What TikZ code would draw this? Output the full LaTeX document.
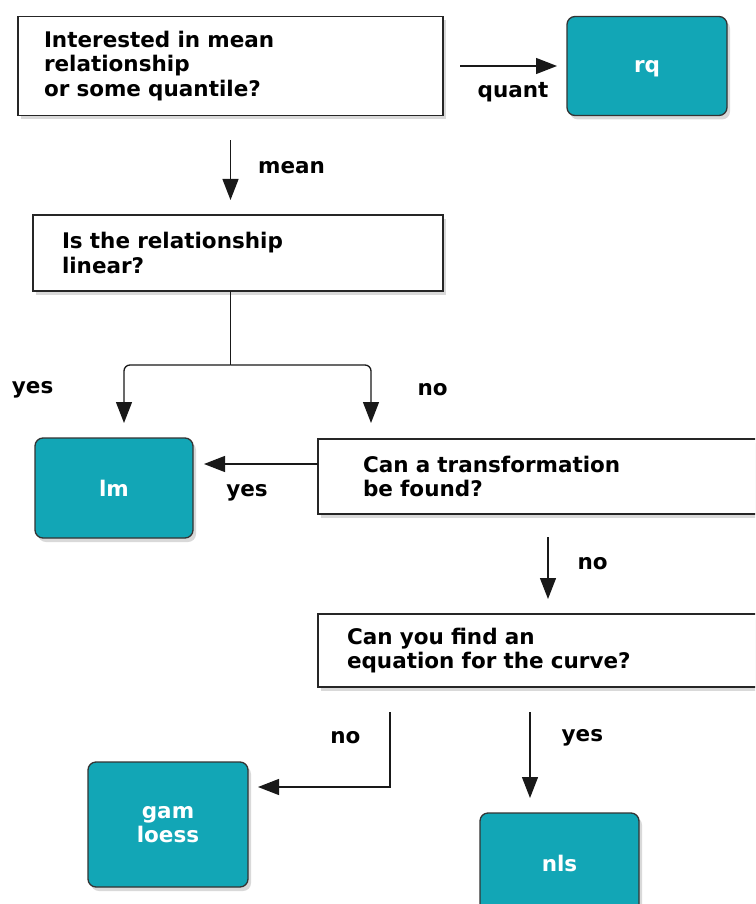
\documentclass[tikz,border=0pt]{standalone}
\usepackage{fontspec}
\setmainfont{DejaVu Sans}
\usetikzlibrary{arrows.meta, positioning, calc, shadows}
\definecolor{answerfill}{RGB}{18,166,182}

\begin{document}
\begin{tikzpicture}[
        x=1pt, y=-1pt,
        >={Triangle[length=21pt, width=16pt]},
        font=\fontsize{21.5}{24.5}\selectfont\bfseries,
        question/.style={draw=black!85, line width=1.6pt, fill=white, align=left, inner ysep=0pt, outer sep=0pt,
            drop shadow={shadow xshift=3pt, shadow yshift=-4pt, opacity=0.3}},
        answer/.style={draw=black!80, line width=1.3pt, fill=answerfill, text=white, rounded corners=8pt, align=center,
            minimum width=160pt, minimum height=100pt, inner sep=0pt, outer sep=0pt, text depth=0pt,
            drop shadow={shadow xshift=3pt, shadow yshift=-4pt, opacity=0.3}},
        line/.style={line width=1.3pt, draw=black!90},
        arrow/.style={line, ->},
        lab/.style={inner sep=0pt}
    ]
        \useasboundingbox (0,0) rectangle (755,904);
        \clip (0,0) rectangle (755,904);

        \node[question, text width=373pt, inner xsep=26pt, minimum height=99pt] (interest) at (230.5,66) {Interested in mean\\relationship\\or some quantile?};
        \node[answer, minimum height=99pt] (rq) at (647,66) {rq};
        \node[question, text width=352pt, inner xsep=29pt, minimum height=76pt] (linear) at (238,253) {Is the relationship\\linear?};
        \node[answer, minimum width=158pt] (lm) at (114,488) {lm};
        \node[question, text width=362pt, inner xsep=45pt, minimum height=75pt] (transform) at (544,476.5) {Can a transformation\\be found?};
        \node[question, text width=394pt, inner xsep=29pt, minimum height=73pt] (curve) at (544,650.5) {Can you find an\\equation for the curve?};
        \node[answer, minimum height=125pt] (gam) at (168,824.5) {gam\\loess};
        \node[answer, minimum width=159pt] (nls) at (559.5,863) {nls};

        \draw[arrow] ($(interest.east)+(17,0)$) -- node[lab, below=16pt, xshift=4.5pt] {quant} ($(rq.west)+(-10,0)$);
        \draw[arrow] ($(interest.south)+(0,25)$) -- node[lab, right=27pt, yshift=3pt] {mean} ($(interest.south |- linear.north)+(0,-15)$);

        % split below the linearity question
        \coordinate (split) at ($(interest.south |- linear.south)+(0,74)$);
        \draw[line] (interest.south |- linear.south) -- (split);
        \draw[arrow, rounded corners=6pt] (split) -| node[lab, pos=0.75, left=70pt, yshift=4pt] {yes} ($(lm.north)+(10,-15)$);
        \draw[arrow, rounded corners=6pt] (split) -| node[lab, pos=0.75, right=46pt, yshift=4pt] {no} ($(transform.north west)+(53,-16)$);

        \draw[arrow] ($(transform.west)+(0,-12.5)$) -- node[lab, below=20pt, xshift=-14pt] {yes} ($(lm.east |- transform.west)+(11,-12.5)$);
        \draw[arrow] ($(transform.south)+(4,23)$) -- node[lab, right=29pt, yshift=4pt] {no} ($(transform.south |- curve.north)+(4,-15)$);

        \draw[arrow] ($(curve.south west)+(72,25)$) |- node[lab, pos=0.25, left=29pt, yshift=11.5pt] {no} ($(gam.east)+(10,-37.5)$);
        \draw[arrow] ($(curve.south west)+(212,25)$) -- node[lab, right=31pt, yshift=17pt] {yes} ($(nls.north)+(-29.5,-15)$);
    \end{tikzpicture}
\end{document}
